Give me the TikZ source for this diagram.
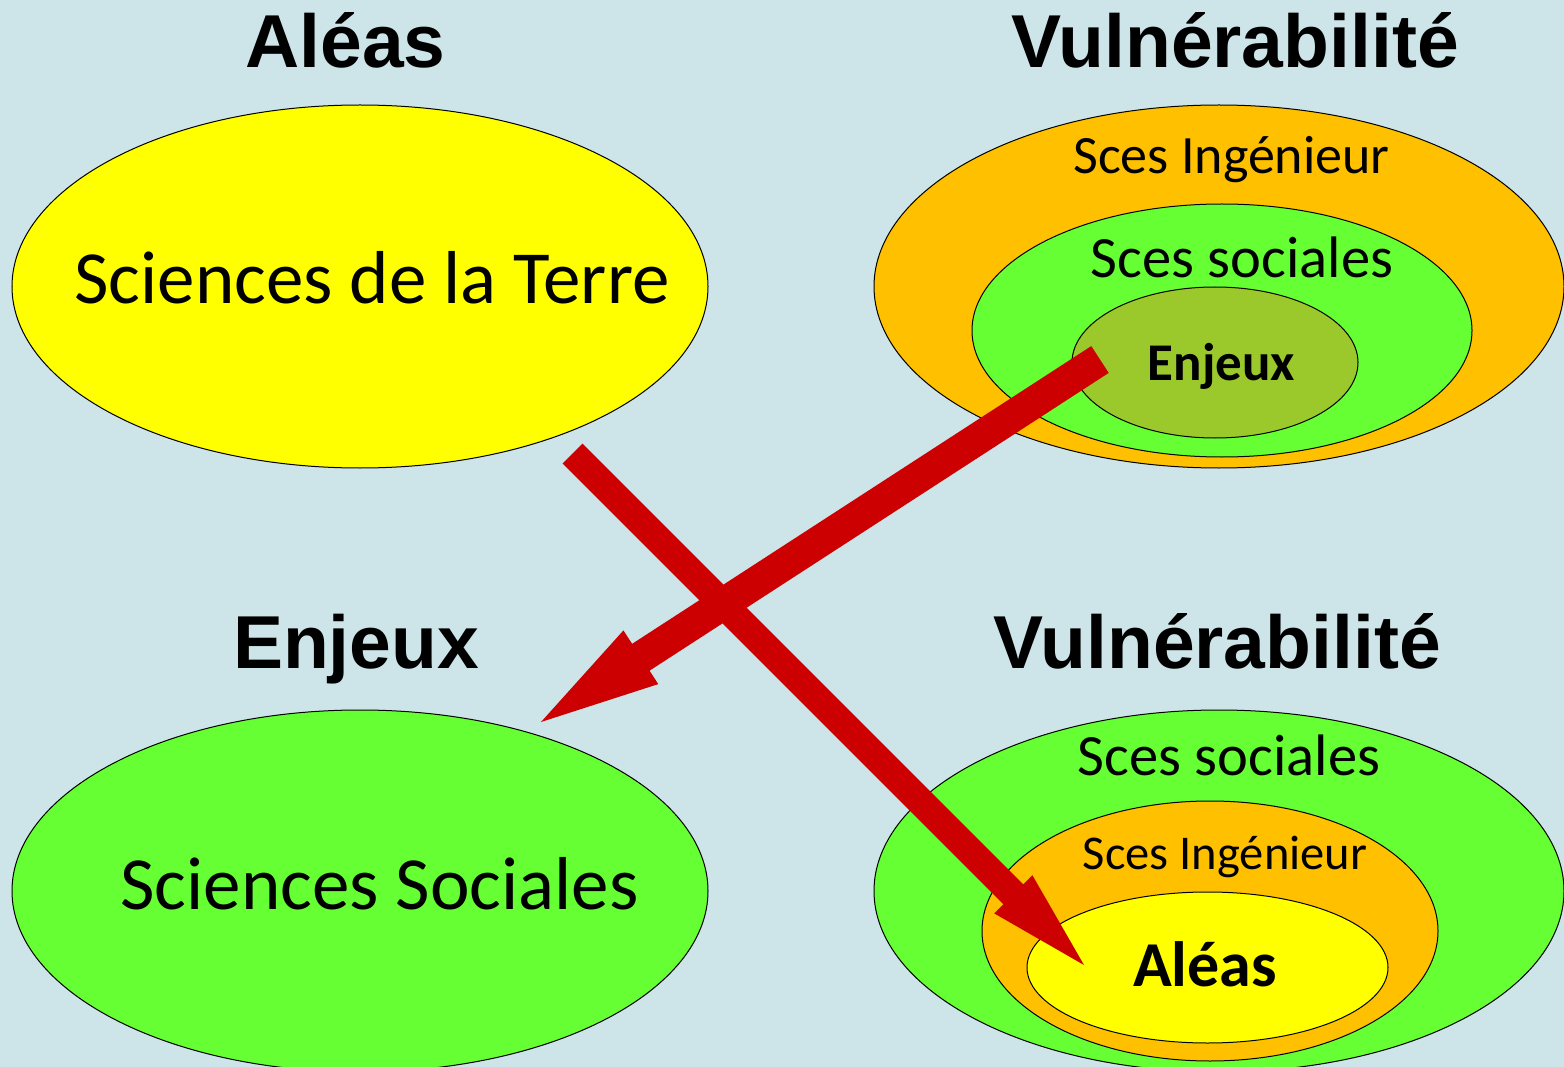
\documentclass[tikz,border=0pt]{standalone}
\usepackage{fontspec}
\setmainfont{Carlito}
\newfontfamily\headfont{Liberation Sans}
\usetikzlibrary{calc,shapes.geometric}
\definecolor{bgcol}{HTML}{CDE4E8}
\definecolor{ellyellow}{HTML}{FFFF00}
\definecolor{ellgreen}{HTML}{66FF33}
\definecolor{ellorange}{HTML}{FFC000}
\definecolor{ellolive}{HTML}{9BC92B}
\definecolor{arrowred}{HTML}{CC0000}
\tikzset{
  ell/.style={ellipse, draw=black, line width=1pt, inner sep=0pt, outer sep=0pt},
  head/.style={anchor=base, inner sep=0pt, font=\headfont\bfseries\fontsize{75}{80}\selectfont},
  lbl/.style={anchor=base, inner sep=0pt},
}
\newcommand\blockarrow[5]{%
  \coordinate (ba-b) at ($(#2)!#5!(#1)$);
  \fill[arrowred] ($(#1)!#3!90:(#2)$) -- ($(ba-b)!#3!90:(#2)$) -- ($(ba-b)!#4!90:(#2)$)
    -- (#2) -- ($(ba-b)!#4!-90:(#2)$) -- ($(ba-b)!#3!-90:(#2)$) -- ($(#1)!#3!-90:(#2)$) -- cycle;
}
\begin{document}
\begin{tikzpicture}[x=1pt,y=-1pt]
\useasboundingbox (0,0) rectangle (1564,1067);
\clip (0,0) rectangle (1564,1067);
\fill[bgcol] (0,0) rectangle (1564,1067);

% headings
\node[head] (hAleas) at (345.5,68) {Aléas};
\node[head] (hVuln1) at (1235,68) {Vulnérabilité};
\node[head] (hEnjeux) at (356,668) {Enjeux};
\node[head] (hVuln2) at (1217,668) {Vulnérabilité};

% top-left
\node[ell, fill=ellyellow, minimum width=696pt, minimum height=363pt] (terre) at (360,286.5) {};
\node[lbl, font=\fontsize{75}{80}\selectfont] (terreT) at (372,304) {Sciences de la Terre};

% top-right
\node[ell, fill=ellorange, minimum width=690pt, minimum height=363pt] (v1ing) at (1219,286.5) {};
\node[ell, fill=ellgreen, minimum width=500pt, minimum height=253pt] (v1soc) at (1222,330.5) {};
\node[ell, fill=ellolive, minimum width=286pt, minimum height=151pt] (v1enj) at (1215,362.5) {};
\node[lbl, font=\fontsize{54}{60}\selectfont] (v1ingT) at (1231.5,174) {Sces Ingénieur};
\node[lbl, font=\fontsize{58.5}{64}\selectfont] (v1socT) at (1242,278) {Sces sociales};
\node[lbl, font=\bfseries\fontsize{53}{60}\selectfont] (v1enjT) at (1221.5,381) {Enjeux};

% bottom-left
\node[ell, fill=ellgreen, minimum width=696pt, minimum height=362pt] (socs) at (360,891) {};
\node[lbl, font=\fontsize{75}{80}\selectfont] (socsT) at (379.5,909) {Sciences Sociales};

% bottom-right
\node[ell, fill=ellgreen, minimum width=690pt, minimum height=362pt] (v2soc) at (1219,891) {};
\node[ell, fill=ellorange, minimum width=456pt, minimum height=260pt] (v2ing) at (1210,931) {};
\node[ell, fill=ellyellow, minimum width=361pt, minimum height=151pt] (v2ale) at (1207.5,967.5) {};
\node[lbl, font=\fontsize{58.5}{64}\selectfont] (v2socT) at (1229,775) {Sces sociales};
\node[lbl, font=\fontsize{48.5}{56}\selectfont] (v2ingT) at (1225,869) {Sces Ingénieur};
\node[lbl, font=\bfseries\fontsize{64}{70}\selectfont] (v2aleT) at (1205,986) {Aléas};

% arrows
\coordinate (a1s) at (572.5,453.5);
\coordinate (a1t) at (1084,965);
\coordinate (a2s) at (1100,359.5);
\coordinate (a2t) at (541,722);
\blockarrow{a1s}{a1t}{14pt}{27pt}{100pt}
\blockarrow{a2s}{a2t}{16pt}{32pt}{119pt}
\end{tikzpicture}
\end{document}
